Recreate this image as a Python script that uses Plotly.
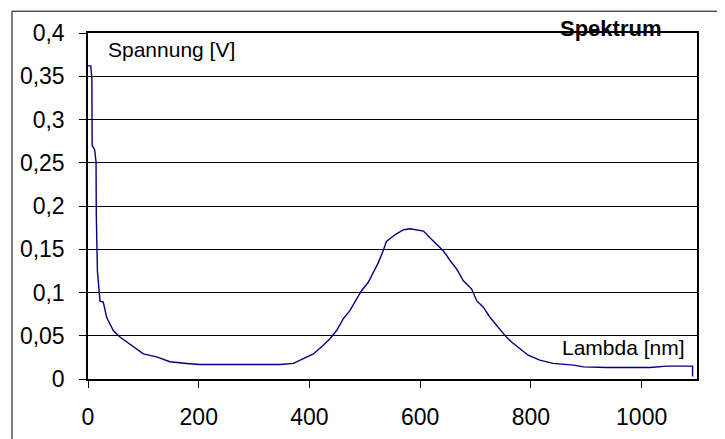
import plotly.graph_objects as go

# Spectrum data (wavelength in nm, voltage in V)
lambda_nm = [0, 5, 7, 7.5, 12, 14.5, 15, 15.7, 17, 21.7, 27.6, 33.8, 39.7, 45.7, 57.8, 69.9,
             81.8, 99.9, 124, 148, 178, 202, 250, 300, 347, 371, 389, 407, 425, 437, 449,
             461, 473, 485, 494, 506, 515, 524, 533, 539, 555, 570, 582, 594, 606, 618,
             630, 642, 654, 666, 678, 693, 702, 714, 726, 738, 753, 765, 780, 795, 816,
             840, 877, 895, 937, 1015, 1045, 1075, 1092, 1092]
spannung_v = [0.362, 0.362, 0.347, 0.27, 0.265, 0.251, 0.19, 0.148, 0.125, 0.09, 0.089,
              0.071, 0.064, 0.056, 0.0485, 0.043, 0.037, 0.029, 0.0256, 0.020, 0.018,
              0.0167, 0.0167, 0.0167, 0.0167, 0.018, 0.0236, 0.029, 0.039, 0.0466, 0.056,
              0.0696, 0.079, 0.0925, 0.102, 0.1115, 0.123, 0.134, 0.148, 0.159, 0.167,
              0.1726, 0.1737, 0.1726, 0.171, 0.163, 0.1555, 0.148, 0.137, 0.127, 0.1135,
              0.104, 0.0905, 0.083, 0.0714, 0.062, 0.0504, 0.0428, 0.035, 0.0275, 0.0218,
              0.018, 0.016, 0.014, 0.0133, 0.0133, 0.0149, 0.0149, 0.0149, 0.003]

x_tickvals = [0, 200, 400, 600, 800, 1000]
x_ticktext = ["0", "200", "400", "600", "800", "1000"]
y_tickvals = [0, 0.05, 0.1, 0.15, 0.2, 0.25, 0.3, 0.35, 0.4]
y_ticktext = ["0", "0,05", "0,1", "0,15", "0,2", "0,25", "0,3", "0,35", "0,4"]

font_family = "Liberation Sans, Arial, sans-serif"

fig = go.Figure()
fig.add_trace(go.Scatter(
    x=lambda_nm, y=spannung_v, mode="lines",
    line=dict(color="#000080", width=1.4),
    showlegend=False, hoverinfo="skip",
))

# page body has an 8px margin, so figure coords = screen coords - 8
OFF = 8
W, H = 725, 439
ml, mt = 88 - OFF, 30 - OFF
pr, pb = 697 - OFF, 379 - OFF
mr, mb = W - pr, H - pb
pw, ph = pr - ml, pb - mt

def px_x(p):
    return (p - OFF - ml) / pw

def px_y(p):
    return (pb - (p - OFF)) / ph

fig.update_layout(
    width=W, height=H,
    margin=dict(l=ml, r=mr, t=mt, b=mb, pad=0),
    paper_bgcolor="white", plot_bgcolor="white",
    font=dict(family=font_family, color="black"),
    xaxis=dict(
        range=[0, 1100], tickvals=x_tickvals, ticktext=x_ticktext,
        showgrid=False, zeroline=False,
        showline=True, linecolor="black", linewidth=1.5, mirror=True,
        ticks="outside", ticklen=7, tickcolor="black",
        tickfont=dict(size=23, family=font_family), ticklabelstandoff=10,
    ),
    yaxis=dict(
        range=[0, 0.4], tickvals=y_tickvals, ticktext=y_ticktext,
        showgrid=True, gridcolor="black", gridwidth=1, zeroline=False,
        showline=True, linecolor="black", linewidth=1.5, mirror=True,
        ticks="outside", ticklen=7, tickcolor="black",
        tickfont=dict(size=23, family=font_family), ticklabelstandoff=10,
    ),
    shapes=[dict(
        type="rect", xref="paper", yref="paper",
        x0=px_x(12), x1=px_x(780), y0=px_y(500), y1=px_y(8),
        line=dict(color="black", width=1), fillcolor="rgba(0,0,0,0)", layer="below",
    )],
    annotations=[
        dict(text="Spannung [V]", xref="paper", yref="paper",
             x=px_x(106), y=px_y(46.5), xanchor="left", yanchor="middle",
             showarrow=False, font=dict(size=21, family=font_family)),
        dict(text="Lambda [nm]", xref="paper", yref="paper",
             x=px_x(687), y=px_y(347), xanchor="right", yanchor="middle",
             showarrow=False, font=dict(size=21, family=font_family)),
        dict(text="<b>Spektrum</b>", xref="paper", yref="paper",
             x=px_x(610), y=px_y(25), xanchor="center", yanchor="middle",
             showarrow=False, font=dict(size=22, family=font_family)),
    ],
)

fig.write_html("out.html")
